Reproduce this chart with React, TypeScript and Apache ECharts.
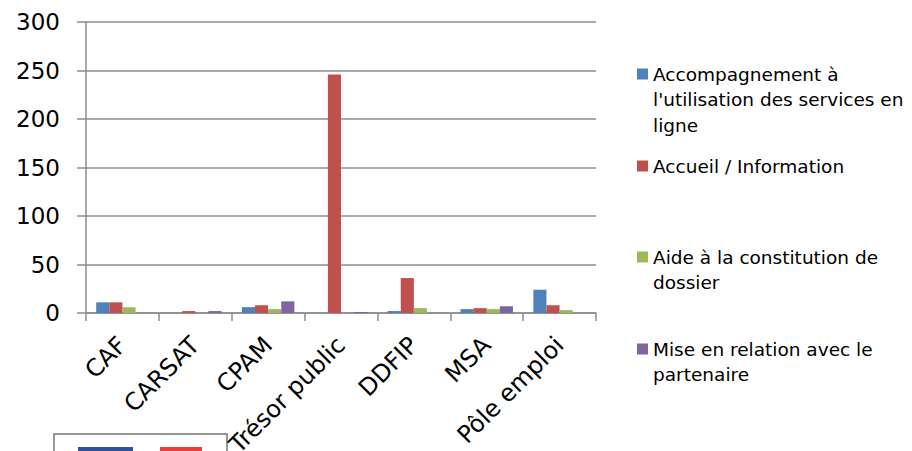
import React, { useEffect, useRef } from "react";
import * as echarts from "echarts";

const categories = ["CAF", "CARSAT", "CPAM", "Trésor public", "DDFIP", "MSA", "Pôle emploi"];
const seriesNames = [
  "Accompagnement à l'utilisation des services en ligne",
  "Accueil / Information",
  "Aide à la constitution de dossier",
  "Mise en relation avec le partenaire",
];
const legendLabels = [
  "Accompagnement à\nl'utilisation des services en\nligne",
  "Accueil / Information",
  "Aide à la constitution de\ndossier",
  "Mise en relation avec le\npartenaire",
];
const accompagnement = [11, 0, 6, 0, 2, 4, 24];
const accueil = [11, 2, 8, 246, 36, 5, 8];
const aide = [6, 0, 4, 0, 5, 4, 3];
const miseEnRelation = [0, 2, 12, 1, 0, 7, 0];
const yTicks = { min: 0, max: 300, interval: 50 };

const colors = ["#4F81BD", "#C0504D", "#9BBB59", "#8064A2"];
const FONT = "DejaVu Sans";

export default function App() {
  const ref = useRef<HTMLDivElement>(null);
  useEffect(() => {
    if (!ref.current) return;
    const chart = echarts.init(ref.current, null, { renderer: "svg" });
    const values = [accompagnement, accueil, aide, miseEnRelation];
    const L = 25.5;
    const lineCounts = legendLabels.map((s) => s.split("\n").length);
    const iconCenters = [74, 166, 257, 349];
    chart.setOption({
      animation: false,
      color: colors,
      grid: {
        left: 86,
        right: 316,
        top: 22,
        bottom: 138,
        containLabel: false,
        outerBoundsMode: "none",
      },
      xAxis: {
        type: "category",
        data: categories,
        axisLine: { show: true, lineStyle: { color: "#8c8c8c", width: 1.5 } },
        axisTick: { show: true, length: 8, lineStyle: { color: "#8c8c8c", width: 1.5 } },
        axisLabel: {
          interval: 0,
          rotate: 45,
          margin: 28,
          color: "#000",
          fontFamily: FONT,
          fontSize: 24,
        },
      },
      yAxis: {
        type: "value",
        min: yTicks.min,
        max: yTicks.max,
        interval: yTicks.interval,
        axisLine: { show: true, lineStyle: { color: "#8c8c8c", width: 1.5 } },
        axisTick: { show: true, length: 9, lineStyle: { color: "#8c8c8c", width: 1.5 } },
        splitLine: { show: true, lineStyle: { color: "#8c8c8c", width: 1.5 } },
        axisLabel: { color: "#000", fontFamily: FONT, fontSize: 23, margin: 26 },
      },
      legend: seriesNames.map((name, i) => {
        const n = lineCounts[i];
        const total = 2 * n - 1;
        const H = total * L;
        return {
          data: [{ name, icon: "rect" }],
          orient: "vertical",
          left: 637,
          top: iconCenters[i] - H / 2,
          padding: 0,
          itemWidth: 11,
          itemHeight: 11,
          selectedMode: false,
          formatter: () => "\n".repeat(n - 1) + legendLabels[i],
          textStyle: {
            color: "#000",
            fontFamily: FONT,
            fontSize: 18.5,
            lineHeight: L,
          },
        };
      }),
      series: seriesNames.map((name, i) => ({
        name,
        type: "bar",
        data: values[i],
        barGap: "0%",
        barCategoryGap: "28%",
        itemStyle: { color: colors[i] },
      })),
      graphic: [
        {
          type: "rect",
          shape: { x: 54, y: 434, width: 173, height: 30 },
          style: { fill: "#fff", stroke: "#777", lineWidth: 1.5 },
        },
        {
          type: "rect",
          shape: { x: 78, y: 447, width: 55, height: 10 },
          style: { fill: "#33509A" },
        },
        {
          type: "rect",
          shape: { x: 160, y: 447, width: 42, height: 10 },
          style: { fill: "#E8403A" },
        },
      ],
    });
    return () => chart.dispose();
  }, []);
  return (
    <div
      ref={ref}
      style={{ position: "fixed", left: 0, top: 0, width: 912, height: 451, background: "#fff" }}
    />
  );
}
